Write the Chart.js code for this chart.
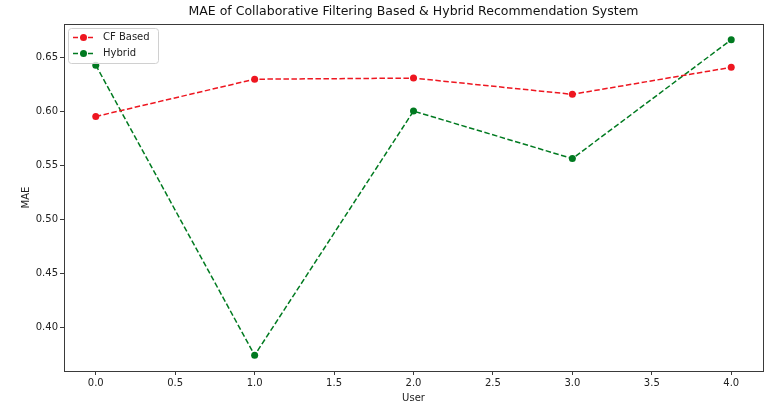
<!DOCTYPE html>
<html>
<head>
<meta charset="utf-8">
<script src="https://cdn.jsdelivr.net/npm/chart.js@4/dist/chart.umd.min.js"></script>
<style>
html,body{margin:0;padding:0;background:#fff;}
#wrap{width:774px;height:408px;}
</style>
</head>
<body>
<div id="wrap"><canvas id="c"></canvas></div>
<script>
const users = [0, 1, 2, 3, 4];
const cfBased = [0.595, 0.6295, 0.6305, 0.6155, 0.6405];
const hybrid = [0.6425, 0.374, 0.600, 0.556, 0.666];
const xTicks = [0, 0.5, 1.0, 1.5, 2.0, 2.5, 3.0, 3.5, 4.0];
const yTicks = [0.40, 0.45, 0.50, 0.55, 0.60, 0.65];
const seriesNames = ['CF Based', 'Hybrid'];
const chartTitle = 'MAE of Collaborative Filtering Based & Hybrid Recommendation System';

const RED = 'rgb(238,22,32)';
const GREEN = 'rgb(0,122,32)';
const FONT = 'DejaVu Sans';

const frame = {
  id: 'frame',
  afterDraw(chart) {
    const {ctx, chartArea: a} = chart;
    ctx.save();
    ctx.strokeStyle = '#3a3a3a';
    ctx.lineWidth = 1;
    ctx.strokeRect(Math.round(a.left) + 0.5, Math.round(a.top) + 0.5, Math.round(a.right - a.left), Math.round(a.bottom - a.top));
    // title centred over the axes
    ctx.fillStyle = '#111';
    ctx.font = '12.5px "' + FONT + '"';
    ctx.textAlign = 'center';
    ctx.textBaseline = 'middle';
    ctx.fillText(chartTitle, (a.left + a.right) / 2, 12);
    // legend
    const lx = 68, ly = 28, lw = 90, lh = 35;
    ctx.beginPath();
    ctx.roundRect(lx + 0.5, ly + 0.5, lw, lh, 3);
    ctx.fillStyle = 'rgba(255,255,255,0.8)';
    ctx.fill();
    ctx.strokeStyle = '#d0d0d0';
    ctx.stroke();
    chart.data.datasets.forEach((ds, i) => {
      const y = 37.5 + i * 16;
      ctx.save();
      ctx.strokeStyle = ds.borderColor;
      ctx.lineWidth = 1.5;
      ctx.setLineDash([5, 2.5]);
      ctx.beginPath();
      ctx.moveTo(73, y);
      ctx.lineTo(94, y);
      ctx.stroke();
      ctx.restore();
      ctx.beginPath();
      ctx.arc(83.5, y, 3.5, 0, Math.PI * 2);
      ctx.fillStyle = ds.pointBackgroundColor;
      ctx.fill();
      ctx.fillStyle = '#222';
      ctx.font = '10px "' + FONT + '"';
      ctx.textBaseline = 'middle';
      ctx.textAlign = 'left';
      ctx.fillText(ds.label, 103, y);
    });
    ctx.restore();
  }
};

function mkSet(label, vals, color) {
  return {
    label: label,
    data: users.map((u, i) => ({x: u, y: vals[i]})),
    borderColor: color,
    backgroundColor: color,
    pointBackgroundColor: color,
    pointBorderColor: color,
    pointRadius: 3.5,
    pointBorderWidth: 0,
    borderWidth: 1.5,
    borderDash: [5.5, 2.5],
    tension: 0,
    fill: false
  };
}

new Chart(document.getElementById('c'), {
  type: 'line',
  data: {
    datasets: [mkSet(seriesNames[0], cfBased, RED), mkSet(seriesNames[1], hybrid, GREEN)]
  },
  plugins: [frame],
  options: {
    responsive: true,
    maintainAspectRatio: false,
    animation: false,
    devicePixelRatio: 1,
    layout: {padding: {left: 0, right: 11, top: 24, bottom: 0}},
    plugins: {
      legend: {display: false},
      tooltip: {enabled: false},
      title: {display: false}
    },
    scales: {
      x: {
        type: 'linear',
        min: -0.2,
        max: 4.2,
        afterBuildTicks(s) { s.ticks = xTicks.map(v => ({value: v})); },
        afterFit(s) { s.height = 37; },
        grid: {display: true, drawOnChartArea: false, drawTicks: true, tickLength: 4, color: '#3a3a3a'},
        border: {display: true, color: '#3a3a3a'},
        ticks: {
          color: '#222',
          padding: 2,
          maxRotation: 0,
          autoSkip: false,
          font: {family: FONT, size: 10},
          callback: v => Number(v).toFixed(1)
        },
        title: {
          display: true,
          text: 'User',
          color: '#222',
          font: {family: FONT, size: 10, lineHeight: 1.2},
          padding: {top: 0, bottom: 4}
        }
      },
      y: {
        type: 'linear',
        min: 0.3594,
        max: 0.6806,
        afterBuildTicks(s) { s.ticks = yTicks.map(v => ({value: v})); },
        afterFit(s) { s.width = 64; },
        grid: {display: true, drawOnChartArea: false, drawTicks: true, tickLength: 4, color: '#3a3a3a'},
        border: {display: true, color: '#3a3a3a'},
        ticks: {
          color: '#222',
          padding: 2,
          autoSkip: false,
          font: {family: FONT, size: 10},
          callback: v => Number(v).toFixed(2)
        },
        title: {
          display: true,
          text: 'MAE',
          color: '#222',
          font: {family: FONT, size: 10, lineHeight: 1.2},
          padding: {top: 20, bottom: 0}
        }
      }
    }
  }
});
</script>
</body>
</html>
